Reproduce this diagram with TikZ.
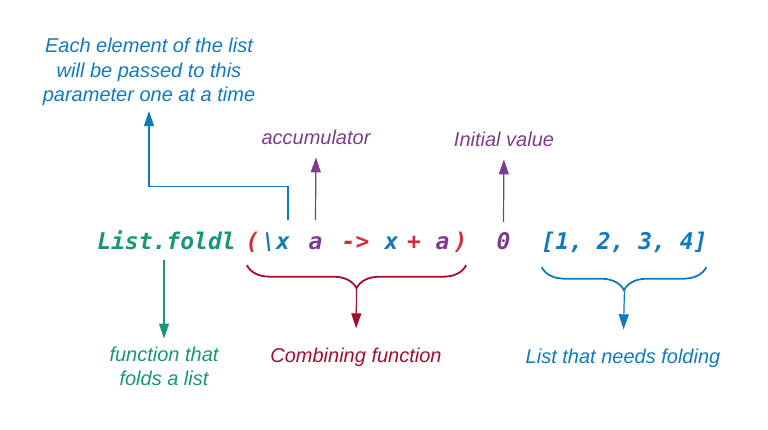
\documentclass[tikz,border=0pt]{standalone}
\usepackage{fontspec}
\setmainfont{Liberation Sans}
\newfontfamily\codefont{DejaVu Sans Mono}
\usepackage{xcolor}
\usepackage{tikz}
\usetikzlibrary{calc,positioning,arrows.meta,decorations.pathreplacing}

\definecolor{fgreen}{RGB}{24,150,120}
\definecolor{fblue}{RGB}{16,122,190}
\definecolor{fpurple}{RGB}{125,60,140}
\definecolor{fdarkred}{RGB}{160,15,45}
\definecolor{fred}{RGB}{212,45,58}

\begin{document}
\begin{tikzpicture}[x=1pt,y=-1pt]

\useasboundingbox (0,0) rectangle (768,429);

\tikzstyle{code} = [inner sep=0pt, anchor=base, text height=17pt, text depth=5pt, font=\codefont\fontsize{23}{23}\selectfont\bfseries\itshape]
\tikzstyle{note} = [inner sep=0pt, align=center, font=\fontsize{20}{24.5}\selectfont\itshape]
\tikzstyle{arr} = [line width=1.2pt, -{Triangle[width=10pt,length=15pt]}]
\tikzstyle{brc} = [line width=1.8pt, decorate, decoration={brace,mirror,amplitude=23pt}]

% the expression
\node (lf) [code,text=fgreen] at (166.5,249) {List.foldl};
\node (lpar) [code,text=fred] at (252.5,249) {(};
\node (bsx) [code,text=fblue] at (276,249) {\textbackslash x};
\node (aacc) [code,text=fpurple] at (315.5,249) {a};
\node (arrw) [code,text=fred] at (355.5,249) {->};
\node (xsum) [code,text=fblue] at (391.5,249) {x};
\node (plus) [code,text=fred] at (414,249) {+};
\node (asum) [code,text=fpurple] at (442.5,249) {a};
\node (rpar) [code,text=fred] at (460.5,249) {)};
\node (zero) [code,text=fpurple] at (503.5,249) {0};
\node (lst) [code,text=fblue] at (624.5,249) {[1, 2, 3, 4]};

% the notes
\node (eachel) [note,text=fblue,anchor=south] at (149,106) {Each element of the list\\will be passed to this\\parameter one at a time};
\node (accum) [note,text=fpurple,anchor=base] at (316,144) {accumulator};
\node (initv) [note,text=fpurple,anchor=base] at (504,146) {Initial value};
\node (fthat) [note,text=fgreen,anchor=north] at (164,346.5) {function that\\folds a list};
\node (combfn) [note,text=fdarkred,anchor=base] at (356,362) {Combining function};
\node (lneed) [note,text=fblue,anchor=base] at (623,363) {List that needs folding};

\coordinate (cbtip) at ($(lpar.south west)!0.5!(rpar.south east)+(0,34)$);
\coordinate (lbtip) at ($(lst.south west)!0.5!(lst.south east)+(0,34)$);

\draw[fblue,arr,shorten >=5pt] ($(bsx.north east)+(-2,-12)$) -- ++(0,-33) -| (eachel.south);
\draw[fpurple,arr,shorten >=13pt] ($(aacc.north)+(0,-12)$) -- (accum.south);
\draw[fpurple,arr,shorten >=13pt] ($(zero.north)+(0,-10)$) -- (initv.south);
\draw[fgreen,arr,shorten >=8pt] ($(fthat.north |- lf.south)+(0,6)$) -- (fthat.north);

\draw[fdarkred,brc] ($(lpar.south west)+(1.5,11)$) -- ($(rpar.south east)+(-1.5,11)$);
\draw[fblue,brc] ($(lst.south west)+(0.5,13)$) -- ($(lst.south east)+(-1.5,13)$);

\draw[fdarkred,arr,shorten >=19pt] (cbtip) -- (combfn.north);
\draw[fblue,arr,shorten >=19pt] (lbtip) -- (lneed.north);

\end{tikzpicture}
\end{document}
